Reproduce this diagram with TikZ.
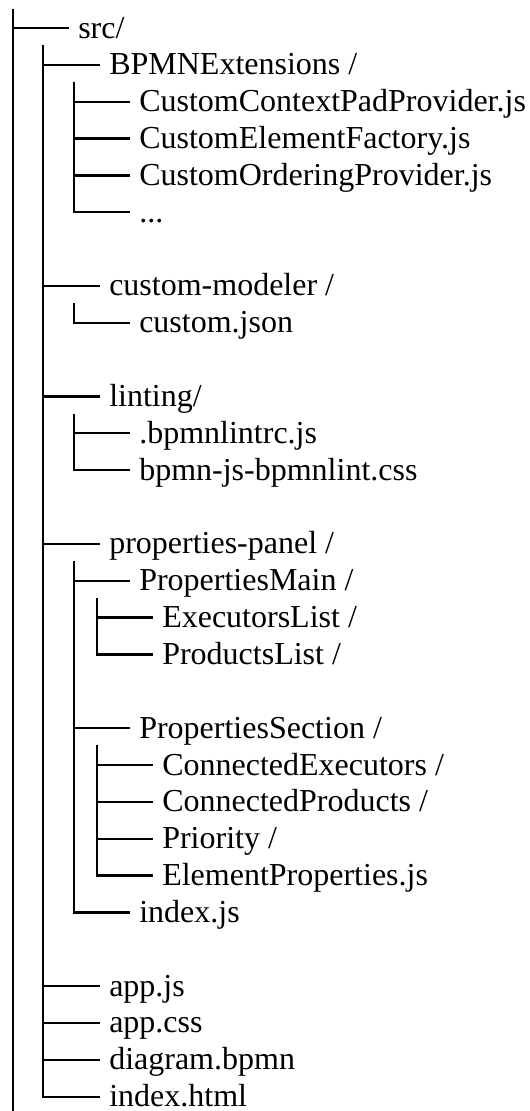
\documentclass[tikz,border=0pt]{standalone}
\usepackage{fontspec}
\setmainfont{Liberation Serif}

% vertical position (px) of tree row #1
\newcommand\rowy[1]{28+36.85*#1}
% one tree entry: #1 name, #2 trunk x, #3 label x, #4 row, #5 label
\newcommand\treeitem[5]{%
  \node[item] (#1) at (#3,{\rowy{#4}+10}) {#5};
  \coordinate (#1-e) at (#2,{\rowy{#4}});
  \draw[tree] (#1-e) -- (#1-e -| #1.west);
}

\begin{document}
\begin{tikzpicture}[x=0.75pt,y=-0.75pt,
  tree/.style={line width=1.7pt, line cap=rect},
  item/.style={anchor=base west, inner xsep=7.5pt, inner ysep=0pt,
               font=\fontsize{24}{28}\selectfont}]
\useasboundingbox (0,0) rectangle (530,1111);

% level 1
\treeitem{src}{12.7}{68}{0}{src/}
\coordinate (root-t) at (12.7,10);
\coordinate (root-b) at (12.7,1115);
\draw[tree] (root-t) -- (root-b);

% level 2 (inside src/)
\treeitem{bpmn}{43}{99}{1}{BPMNExtensions /}
\treeitem{modeler}{43}{99}{7}{custom-modeler /}
\treeitem{lint}{43}{99}{10}{linting/}
\treeitem{panel}{43}{99}{14}{properties-panel /}
\treeitem{appjs}{43}{99}{26}{app.js}
\treeitem{appcss}{43}{99}{27}{app.css}
\treeitem{diagram}{43}{99}{28}{diagram.bpmn}
\treeitem{html}{43}{99}{29}{index.html}
\coordinate (src-t) at (43,{\rowy{0}+18.4});
\draw[tree] (src-t) -- (html-e);

% BPMNExtensions
\treeitem{ctxpad}{74}{129}{2}{CustomContextPadProvider.js}
\treeitem{elfac}{74}{129}{3}{CustomElementFactory.js}
\treeitem{order}{74}{129}{4}{CustomOrderingProvider.js}
\treeitem{more}{74}{129}{5}{...}
\coordinate (bpmn-t) at (74,{\rowy{1}+18.4});
\draw[tree] (bpmn-t) -- (more-e);

% custom-modeler
\treeitem{json}{74}{129}{8}{custom.json}
\coordinate (modeler-t) at (74,{\rowy{7}+18.4});
\draw[tree] (modeler-t) -- (json-e);

% linting
\treeitem{lintrc}{74}{129}{11}{.bpmnlintrc.js}
\treeitem{lintcss}{74}{129}{12}{bpmn-js-bpmnlint.css}
\coordinate (lint-t) at (74,{\rowy{10}+18.4});
\draw[tree] (lint-t) -- (lintcss-e);

% properties-panel
\treeitem{pmain}{74}{129}{15}{PropertiesMain /}
\treeitem{psect}{74}{129}{19}{PropertiesSection /}
\treeitem{pindex}{74}{129}{24}{index.js}
\coordinate (panel-t) at (74,{\rowy{14}+18.4});
\draw[tree] (panel-t) -- (pindex-e);

% PropertiesMain
\treeitem{execs}{97}{152}{16}{ExecutorsList /}
\treeitem{prods}{97}{152}{17}{ProductsList /}
\coordinate (pmain-t) at (97,{\rowy{15}+18.4});
\draw[tree] (pmain-t) -- (prods-e);

% PropertiesSection
\treeitem{cexecs}{97}{152}{20}{ConnectedExecutors /}
\treeitem{cprods}{97}{152}{21}{ConnectedProducts /}
\treeitem{prio}{97}{152}{22}{Priority /}
\treeitem{elprops}{97}{152}{23}{ElementProperties.js}
\coordinate (psect-t) at (97,{\rowy{19}+18.4});
\draw[tree] (psect-t) -- (elprops-e);
\end{tikzpicture}
\end{document}
